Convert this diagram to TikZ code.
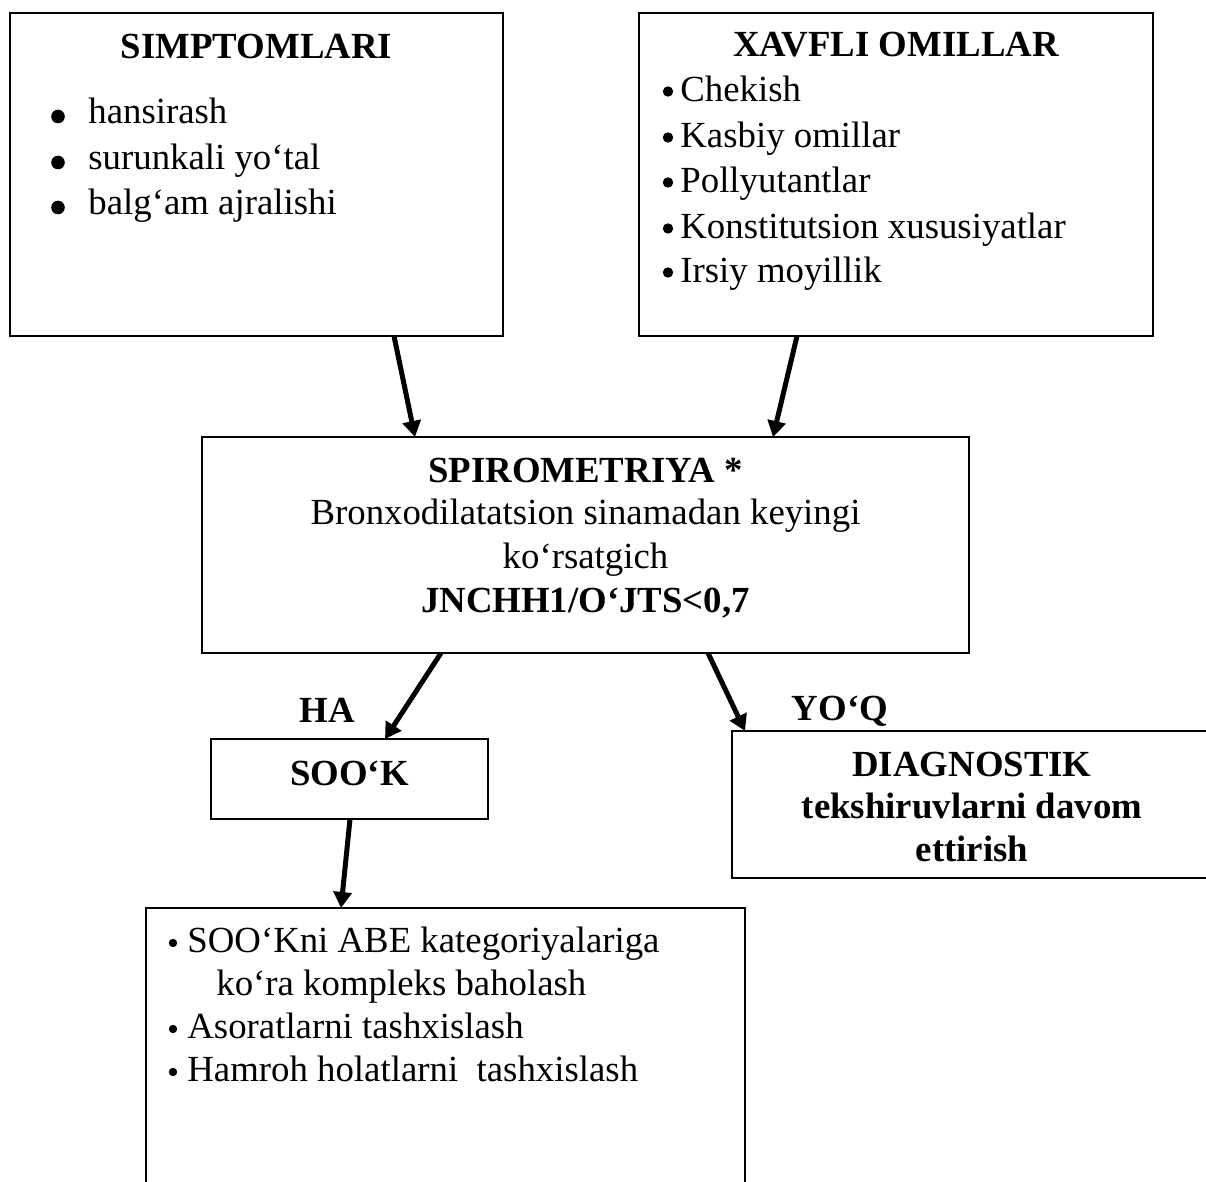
\documentclass[tikz,border=0pt]{standalone}
\usepackage{fontspec}
\setmainfont{Liberation Serif}
\usetikzlibrary{calc,arrows.meta}
\newdimen\pxu \pxu=0.5pt
\begin{document}
\begin{tikzpicture}[x=0.5pt,y=-0.5pt,
  box/.style={draw, line width=0.8pt, rectangle, inner sep=0pt, outer sep=0pt},
  arr/.style={line width=2.5pt, -{Triangle[length=8pt,width=9pt]}},
  txt/.style={anchor=base, inner sep=0pt, font=\fontsize{18.4}{22}\selectfont},
  ttl/.style={anchor=base, inner sep=0pt, font=\fontsize{18.4}{22}\selectfont\bfseries},
  item/.style={anchor=base west, inner sep=0pt, font=\fontsize{18.4}{22}\selectfont}
]
\useasboundingbox (0,0) rectangle (1206,1182);
\clip (0,0) rectangle (1206,1182);

% boxes
\node[box, minimum width=493\pxu, minimum height=323\pxu] (simp) at (256.5,174.5) {};
\node[box, minimum width=514\pxu, minimum height=323\pxu] (risk) at (896,174.5) {};
\node[box, minimum width=767\pxu, minimum height=216\pxu] (spiro) at (585.5,545) {};
\node[box, minimum width=277\pxu, minimum height=80\pxu] (sook) at (349.5,779) {};
\node[box, minimum width=480\pxu, minimum height=147\pxu] (diag) at (972,804.5) {};
\node[box, minimum width=599\pxu, minimum height=300\pxu] (res) at (445.5,1058) {};

% SIMPTOMLARI
\node[ttl] (simpT) at (256.5,59) {SIMPTOMLARI};
\fill (58,116.5) circle[radius=3.4pt];
\fill (58,162.5) circle[radius=3.4pt];
\fill (58,207.5) circle[radius=3.4pt];
\node[item] (s1) at (88,124) {hansirash};
\node[item] (s2) at (88,170) {surunkali yo‘tal};
\node[item] (s3) at (88,215) {balg‘am ajralishi};

% XAVFLI OMILLAR
\node[ttl] (riskT) at (896,57) {XAVFLI OMILLAR};
\foreach \yy in {102,148,193,239,283} {\fill (668,\yy-10.5) circle[radius=2.6pt];}
\node[item] (r1) at (680,102) {Chekish};
\node[item] (r2) at (680,148) {Kasbiy omillar};
\node[item] (r3) at (680,193) {Pollyutantlar};
\node[item] (r4) at (680,239) {Konstitutsion xususiyatlar};
\node[item] (r5) at (680,283) {Irsiy moyillik};

% SPIROMETRIYA
\node[ttl] (sp1) at (585.5,482) {SPIROMETRIYA *};
\node[txt] (sp2) at (585.5,524) {Bronxodilatatsion sinamadan keyingi};
\node[txt] (sp3) at (585.5,568) {ko‘rsatgich};
\node[ttl] (sp4) at (585.5,612) {JNCHH1/O‘JTS<0,7};

% labels
\node[ttl] (ha) at (327,722) {HA};
\node[ttl] (yoq) at (840,720) {YO‘Q};

% SOO'K
\node[ttl] (sookT) at (349.5,785) {SOO‘K};

% DIAGNOSTIK
\node[ttl] (d1) at (972,776) {DIAGNOSTIK};
\node[ttl] (d2) at (972,818) {tekshiruvlarni davom};
\node[ttl] (d3) at (972,861) {ettirish};

% result box
\foreach \yy in {952,1038,1081} {\fill (173,\yy-9) circle[radius=2.1pt];}
\node[item] (e1) at (187,952) {SOO‘Kni ABE kategoriyalariga};
\node[item] (e2) at (216,995) {ko‘ra kompleks baholash};
\node[item] (e3) at (187,1038) {Asoratlarni tashxislash};
\node[item] (e4) at (187,1081) {Hamroh holatlarni\ \ tashxislash};

% arrows
\draw[arr] ($(simp.south)+(137.5,0)$) -- ($(spiro.north)+(-170.5,0)$);
\draw[arr] ($(risk.south)+(-99,0)$) -- ($(spiro.north)+(187.5,0)$);
\draw[arr] ($(spiro.south)+(-144.5,0)$) -- ($(sook.north)+(35.5,0)$);
\draw[arr] ($(spiro.south)+(122.5,0)$) -- ($(diag.north)+(-227,0)$);
\draw[arr] ($(sook.south)+(0.5,0)$) -- ($(res.north)+(-104.5,0)$);
\end{tikzpicture}
\end{document}
